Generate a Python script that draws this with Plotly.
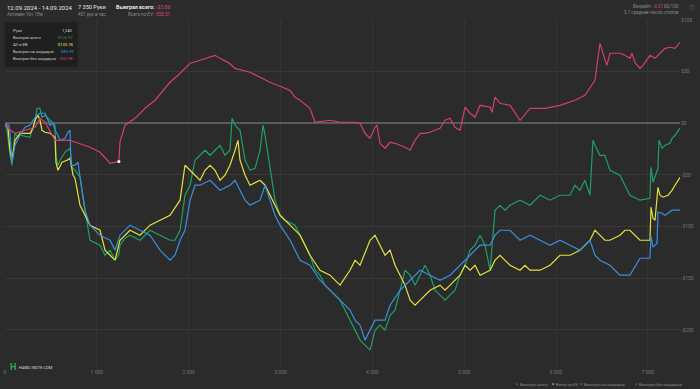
import plotly.graph_objects as go

# ---------------- data ----------------
pink_hands = [0,33,109,218,327,381,436,545,708,926,1035,1144,1240,1252,1307,1416,1525,1634,1797,1884,2015,2124,2233,2287,2341,2428,2505,2668,2777,2886,2995,3104,3158,3213,3321,3376,3539,3648,3812,3866,3920,3975,4029,4051,4084,4138,4193,4247,4302,4356,4411,4465,4520,4574,4628,4683,4737,4792,4846,4900,4955,5009,5064,5118,5173,5282,5303,5336,5390,5499,5608,5717,5880,6043,6206,6315,6424,6478,6554,6587,6696,6750,6805,6827,6859,6914,6947,7023,7078,7132,7187,7241,7296,7350]
pink_vals = [0,-4.8,-9.7,-6.8,-3.9,4.8,1,-16.5,-16.5,-23.2,-28.1,-38.7,-36.98,-18,-1.9,4.8,14.5,22.3,39.7,46.5,58.1,61,63.9,65.8,62.9,59,53.2,49.4,44.5,39.7,35.8,31.9,25.2,22.3,14.5,1,2.9,1,1,0,-9.7,-14.5,-3.9,-1.9,-19.4,-24.2,-18.4,-19.4,-21.3,-23.2,-26.1,-16.5,-9.7,-9.7,-8.7,-6.8,-4.8,2.9,4.8,-3.9,-6.8,15.5,9.7,5.8,17.4,15.5,10.6,25.2,19.4,17.4,2.9,14.5,14.5,17.4,22.3,27.1,41.6,77.4,56.1,67.8,67.8,65.8,62.9,67.8,59,53.2,56.1,65.8,62.9,67.8,72.6,73.6,72.6,78.4]

green_hands = [0,22,54,76,87,109,142,163,272,305,327,349,381,403,436,490,545,555,577,599,653,708,730,762,817,871,926,1035,1089,1144,1198,1240,1252,1307,1361,1470,1579,1688,1797,1851,1906,1960,2015,2069,2124,2178,2233,2287,2341,2396,2450,2472,2505,2559,2614,2668,2723,2777,2810,2832,2886,2940,2995,3049,3158,3213,3267,3321,3376,3430,3485,3539,3594,3648,3703,3757,3812,3866,3920,3975,4029,4084,4138,4193,4247,4302,4356,4411,4465,4520,4574,4628,4683,4737,4792,4846,4900,4955,5009,5064,5118,5173,5227,5282,5336,5390,5445,5499,5608,5717,5826,5935,6043,6152,6206,6261,6315,6370,6402,6424,6478,6532,6587,6696,6805,6914,7023,7034,7056,7110,7121,7154,7187,7241,7263,7296,7350]
green_vals = [0,-6.8,-30,-40.7,-29,-9.7,-13.6,-11.6,-13.6,-3.9,2.9,14.5,14.5,5.8,7.7,2.9,-1.9,-32.9,-40.7,-35.8,-28.1,-24.2,-42.6,-45.5,-52.3,-84.2,-113.3,-118.1,-127.8,-122.9,-132.6,-126.97,-118.1,-111.3,-108.4,-113.3,-103.6,-108.4,-113.3,-113.3,-103.6,-69.7,-60,-35.8,-31,-26.1,-31,-26.1,-21.3,-31,-26.1,4.8,-1.9,-6.8,-35.8,-45.5,-43.6,-26.1,-1.9,-11.6,-43.6,-74.5,-89.1,-93.9,-98.7,-108.4,-118.1,-127.8,-142.3,-147.1,-156.8,-161.7,-166.5,-171.3,-181,-190.7,-200.4,-210,-214.9,-219.7,-200.4,-195.5,-200.4,-185.9,-181,-161.7,-142.3,-147.1,-156.8,-147.1,-137.5,-147.1,-161.7,-166.5,-171.3,-166.5,-161.7,-147.1,-137.5,-122.9,-118.1,-108.4,-118.1,-142.3,-84.2,-79.4,-84.2,-79.4,-74.5,-79.4,-69.7,-74.5,-69.7,-69.7,-60,-64.9,-55.2,-69.7,-16.5,-21.3,-31,-31,-45.5,-50.3,-69.7,-74.5,-72.6,-42.6,-57.1,-43.6,-16.5,-24.2,-21.3,-19.4,-14.5,-11.6,-4.8]

yellow_hands = [0,33,54,76,109,163,272,305,327,359,381,403,436,490,545,555,577,621,675,708,741,762,817,926,1035,1089,1144,1198,1252,1307,1361,1470,1579,1688,1797,1906,1960,2015,2069,2124,2178,2233,2287,2341,2396,2450,2505,2537,2559,2614,2668,2777,2832,2886,2940,2995,3104,3213,3321,3430,3539,3648,3757,3812,3866,3975,4029,4084,4138,4193,4247,4302,4356,4411,4465,4520,4574,4628,4737,4792,4846,4900,4955,5009,5064,5118,5173,5282,5336,5390,5499,5608,5662,5717,5826,5935,6043,6152,6261,6370,6424,6478,6532,6587,6696,6750,6805,6914,7023,7034,7056,7078,7110,7132,7165,7219,7263,7296,7350]
yellow_vals = [0,-4.8,-26.1,-35.8,-16.5,-9.7,-9.7,-4.8,2.9,7.7,2.9,-6.8,-8.7,-9.7,-13.6,-37.8,-45.5,-37.8,-35.8,-33.9,-50.3,-53.2,-79.4,-98.7,-103.6,-122.9,-127.8,-132.6,-113.3,-108.4,-103.6,-108.4,-98.7,-93.9,-89.1,-74.5,-40.7,-45.5,-50.3,-55.2,-45.5,-40.7,-45.5,-55.2,-50.3,-40.7,-26.1,-16.5,-35.8,-50.3,-60,-55.2,-60,-69.7,-79.4,-89.1,-98.7,-108.4,-127.8,-142.3,-147.1,-156.8,-142.3,-132.6,-137.5,-113.3,-108.4,-118.1,-127.8,-122.9,-137.5,-147.1,-156.8,-171.3,-176.2,-171.3,-166.5,-161.7,-156.8,-161.7,-156.8,-152,-147.1,-137.5,-142.3,-137.5,-147.1,-142.3,-132.6,-127.8,-137.5,-142.3,-137.5,-142.3,-142.3,-137.5,-127.8,-127.8,-122.9,-113.3,-103.6,-108.4,-113.3,-113.3,-108.4,-103.6,-103.6,-113.3,-113.3,-81.3,-92,-93.9,-62,-69.7,-71.6,-69.7,-65,-60,-52.3]

blue_hands = [0,43,54,76,109,163,218,272,305,349,381,436,468,490,523,545,566,599,653,686,708,719,762,795,817,871,926,1035,1144,1198,1252,1361,1470,1579,1688,1797,1851,1906,1960,2015,2069,2124,2233,2341,2450,2505,2559,2614,2668,2777,2832,2886,2940,2995,3104,3213,3321,3430,3539,3648,3703,3757,3812,3866,3920,3975,4029,4138,4193,4302,4411,4520,4628,4737,4846,4955,5064,5173,5282,5336,5390,5499,5608,5717,5826,5935,6043,6152,6261,6370,6424,6478,6587,6696,6805,6914,7023,7034,7056,7100,7110,7154,7187,7219,7263,7350]
blue_vals = [0,-1.9,-8.7,-38.7,-21.3,-11.6,-3.9,-1.9,2.9,7.7,9.7,9.7,2.9,-1.9,0,-6.8,-9.7,-16.5,-14.5,-8.7,-6.8,-40.7,-40.7,-37.8,-52.3,-84.2,-98.7,-108.4,-113.3,-122.9,-108.4,-98.7,-103.6,-108.4,-122.9,-132.6,-127.8,-113.3,-103.6,-74.5,-60,-60,-55.2,-64.9,-60,-55.2,-64.9,-74.5,-79.4,-74.5,-60,-74.5,-89.1,-98.7,-113.3,-132.6,-137.5,-152,-161.7,-171.3,-176.2,-181,-190.7,-195.5,-210,-200.4,-190.7,-190.7,-176.2,-161.7,-152,-142.3,-147.1,-152,-147.1,-137.5,-127.8,-118.1,-118.1,-108.4,-103.6,-103.6,-113.3,-108.4,-113.3,-118.1,-113.3,-118.1,-122.9,-113.3,-127.8,-132.6,-137.5,-147.1,-147.1,-130.7,-130.7,-109.4,-120,-116.2,-86.1,-87.1,-89.1,-87.1,-84.2,-84.2]

series_names = ["Выиграл всего", "Всего по EV", "Выиграл на шоудауне", "Выиграл без шоудауна"]
series_colors = ["#1fa064", "#e6e23c", "#3a8fdc", "#d43f6e"]

x_ticks = [0, 1000, 2000, 3000, 4000, 5000, 6000, 7000]
x_tick_text = ["0", "1 000", "2 000", "3 000", "4 000", "5 000", "6 000", "7 000"]
y_ticks = [-200, -150, -100, -50, 0, 50, 100]
y_tick_text = ["-$200", "-$150", "-$100", "-$50", "$0", "$50", "$100"]

# ---------------- figure ----------------
W, H = 700, 389
ML, MR, MT, MB = 5, 20, 20, 21
BG = "#2b2b2b"
FONT = "Roboto, 'Open Sans', sans-serif"

fig = go.Figure()
data = [(green_hands, green_vals), (yellow_hands, yellow_vals), (blue_hands, blue_vals), (pink_hands, pink_vals)]
for (hx, hv), name, col in zip(data, series_names, series_colors):
    fig.add_trace(go.Scatter(x=hx, y=hv, mode="lines", name=name,
                             line=dict(color=col, width=1.2), showlegend=False,
                             hoverinfo="skip"))
fig.add_trace(go.Scatter(x=[1240], y=[-36.98], mode="markers", showlegend=False,
                         marker=dict(color="#ffffff", size=3), hoverinfo="skip"))

pw = W - ML - MR
ph = H - MT - MB
def px(x):
    return (x - ML) / pw
def py(y):
    return (H - MB - y) / ph

ann = []
def txt(x, y, s, size, color, anchor="left", bold=False):
    ann.append(dict(x=px(x), y=py(y), xref="paper", yref="paper", text=("<b>%s</b>" % s) if bold else s,
                    showarrow=False, xanchor=anchor, yanchor="middle",
                    font=dict(size=size, color=color, family=FONT)))

# header
txt(5, 7, "12.09.2024 - 14.09.2024", 6, "#e8e8e8")
txt(5, 14, "Активен 16ч 18м", 4.5, "#8a8a8a")
txt(76, 7, "7 350 Руки", 5.6, "#e8e8e8")
txt(76, 14, "451 рук в час", 4.5, "#8a8a8a")
txt(114, 7, "<b>Выиграл всего:</b> <span style='color:#d94a76'>-$3.86</span>", 5.3, "#e8e8e8", anchor="left")
txt(172, 14, "Всего по EV: <span style='color:#d94a76'>-$50.51</span>", 4.5, "#8a8a8a", anchor="right")
txt(681, 6, "Винрейт: <span style='color:#d94a76'>-0.31</span> бб/100", 4.5, "#8a8a8a", anchor="right")
txt(681, 13, "5.1 среднее число столов", 4.5, "#8a8a8a", anchor="right")
txt(691, 7, "⚙", 8, "#4a4a4a", anchor="center")

# tooltip
tip_rows = [("Руки", "1,240", "#dddddd"), ("Выиграл всего", "-$126.97", series_colors[0]),
            ("All-in EB", "-$130.78", series_colors[1]), ("Выиграл на шоудауне", "-$89.99", series_colors[2]),
            ("Выиграл без шоудауна", "-$36.98", series_colors[3])]
for i, (lab, val, col) in enumerate(tip_rows):
    yy = 30.5 + i * 7.0
    txt(11, yy, lab, 4, "#cfcfcf")
    txt(75, yy, val, 4, col, anchor="right")

# legend
leg_x = [514, 550, 578, 633]
for lx, name, col in zip(leg_x, series_names, series_colors):
    txt(lx, 384, "●", 3.5, col, anchor="left")
    txt(lx + 4, 384, name, 4, "#8a8a8a", anchor="left")

# logo
txt(8, 367, "<b>H</b>", 9, "#3aa04a", anchor="left")
txt(17, 367, "HAND<span style='color:#3ab54a'>2</span>NOTE.COM", 4, "#dddddd", anchor="left")

shapes = [dict(type="rect", xref="paper", yref="paper", x0=px(5), x1=px(78), y0=py(22), y1=py(67),
               fillcolor="#1f1f1f", line=dict(color="#262626", width=1), layer="above")]

fig.update_layout(
    width=W, height=H, margin=dict(l=ML, r=MR, t=MT, b=MB),
    paper_bgcolor=BG, plot_bgcolor=BG,
    font=dict(family=FONT, color="#777777"),
    showlegend=False,
    xaxis=dict(range=[0, 7350], tickvals=x_ticks, ticktext=x_tick_text, showgrid=True,
               gridcolor="#353535", gridwidth=1, zeroline=False, showline=False,
               tickfont=dict(size=5, color="#777777"), ticks=""),
    yaxis=dict(range=[-237, 100], side="right", tickvals=y_ticks, ticktext=y_tick_text,
               showgrid=True, gridcolor="#383838", gridwidth=1, zeroline=True,
               zerolinecolor="#5a5a5a", zerolinewidth=2, showline=False,
               tickfont=dict(size=5, color="#777777"), ticks=""),
    annotations=ann, shapes=shapes,
)
fig.write_html("out.html", config={"displayModeBar": False},
               post_script="document.body.style.margin='0';document.body.style.background='#2b2b2b';")
